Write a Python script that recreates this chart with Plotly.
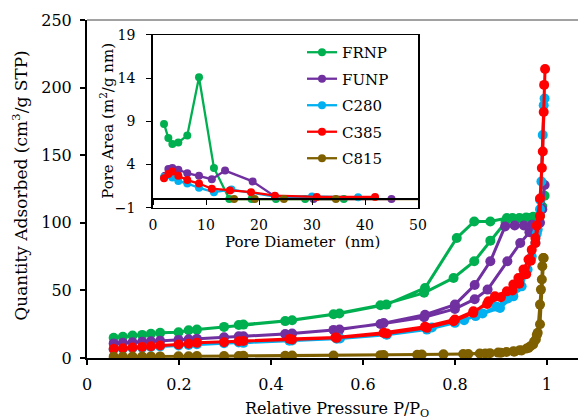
import plotly.graph_objects as go

# ---------------- main isotherm data (P/P0, quantity adsorbed) ----------------
p_frnp = [0.058, 0.078, 0.099, 0.12, 0.139, 0.159, 0.199, 0.221, 0.239, 0.298, 0.33, 0.431, 0.536, 0.638,
          0.733, 0.797, 0.842, 0.877, 0.91, 0.93, 0.945, 0.96, 0.972, 0.982, 0.99, 0.995,
          0.985, 0.97, 0.955, 0.94, 0.925, 0.913, 0.877, 0.842, 0.804, 0.735, 0.651, 0.549, 0.446, 0.34]
q_frnp = [14.9, 15.7, 16.6, 17.1, 17.9, 18.6, 19.1, 20.5, 21.0, 23.0, 24.4, 27.3, 32.3, 39.0,
          48.2, 59.2, 71.5, 86.8, 100.5, 102.5, 103, 103.5, 104, 104.5, 112, 120,
          105, 104.5, 104, 103.5, 103.5, 103.5, 101, 101, 88.8, 51.8, 39.5, 32.9, 27.9, 24.7]

p_funp = [0.058, 0.078, 0.099, 0.12, 0.139, 0.159, 0.199, 0.221, 0.239, 0.298, 0.33, 0.431, 0.536, 0.638,
          0.733, 0.80, 0.843, 0.871, 0.914, 0.942, 0.962, 0.978, 0.99, 0.995,
          0.985, 0.968, 0.95, 0.93, 0.909, 0.877, 0.843, 0.80, 0.735, 0.645, 0.549, 0.446, 0.34]
q_funp = [10.8, 11.2, 11.6, 12.0, 12.3, 12.7, 13.4, 13.9, 14.3, 15.4, 16.0, 17.8, 20.8, 25.2,
          30.1, 36.3, 43.5, 50.6, 71.5, 85, 93, 97.5, 110, 128,
          100, 98.5, 98, 98, 97.3, 71.5, 54, 39.5, 32, 25.8, 21, 18.1, 16.1]

p_c280 = [0.058, 0.078, 0.099, 0.12, 0.139, 0.159, 0.199, 0.221, 0.239, 0.298, 0.33, 0.446, 0.543, 0.652,
          0.739, 0.80, 0.845, 0.898, 0.927, 0.945, 0.958, 0.967, 0.975, 0.98, 0.985, 0.988, 0.991, 0.993, 0.995,
          0.985, 0.978, 0.965, 0.95, 0.935, 0.915, 0.89, 0.86, 0.82, 0.75, 0.65, 0.55, 0.44, 0.34]
q_c280 = [6.3, 6.8, 7.3, 7.7, 8.1, 8.5, 9.2, 9.7, 10.2, 11.0, 11.5, 13.0, 14.3, 17.2,
          21, 26, 31, 37, 45.6, 53, 65.4, 75, 85, 95, 117, 130.6, 165, 187, 192,
          110, 92, 74, 62, 52, 44, 38, 33, 28, 22.5, 17.5, 14.5, 12.8, 11.2]

p_c385 = [0.058, 0.078, 0.099, 0.12, 0.139, 0.159, 0.199, 0.221, 0.239, 0.298, 0.33, 0.446, 0.543, 0.652,
          0.739, 0.797, 0.84, 0.873, 0.887, 0.913, 0.927, 0.938, 0.949, 0.96, 0.967, 0.975, 0.978, 0.985,
          0.989, 0.991, 0.993, 0.994, 0.996,
          0.985, 0.975, 0.965, 0.955, 0.94, 0.925, 0.9, 0.87, 0.84, 0.8, 0.735, 0.645, 0.54, 0.44, 0.34]
q_c385 = [6.8, 7.2, 7.8, 8.2, 8.7, 9.2, 10.0, 10.6, 11.2, 11.7, 12.4, 13.7, 14.9, 18.1,
          22.3, 27.2, 33.4, 42, 45.6, 49.3, 54.3, 59.2, 65.4, 72.8, 80, 88.8, 97.9, 118,
          140.5, 152.7, 182, 202, 213.8,
          105, 85, 72, 62, 55, 50, 45, 40, 34.5, 28.5, 23.2, 18.6, 15.2, 14, 12.6]

p_c815 = [0.058, 0.078, 0.099, 0.12, 0.139, 0.159, 0.199, 0.221, 0.239, 0.298, 0.33, 0.431, 0.536, 0.638,
          0.718, 0.775, 0.818, 0.854, 0.876, 0.894, 0.912, 0.927, 0.941, 0.956, 0.964, 0.972, 0.976, 0.98,
          0.985, 0.987, 0.989, 0.99, 0.992, 0.993,
          0.985, 0.978, 0.97, 0.96, 0.945, 0.929, 0.9, 0.866, 0.829, 0.728, 0.645, 0.446, 0.34]
q_c815 = [1.0, 1.0, 1.1, 1.1, 1.2, 1.2, 1.3, 1.3, 1.4, 1.5, 1.5, 1.7, 1.9, 2.1,
          2.4, 2.7, 3.0, 3.3, 3.6, 4.0, 4.5, 5.0, 5.8, 7.0, 8.7, 12, 13.7, 18.6,
          39.5, 50.6, 58, 67.8, 74, 74,
          25, 17, 10, 7.5, 5.5, 4.6, 3.9, 3.4, 3.0, 2.5, 2.2, 1.8, 1.6]

# ---------------- inset pore-area distribution data ----------------
d_frnp = [2.08, 2.9, 3.65, 4.78, 6.47, 8.68, 11.5, 14.4, 18.6, 23.2, 28.7, 36]
a_frnp = [8.7, 7.06, 6.37, 6.56, 7.37, 14.1, 3.6, 0.0, 0.0, 0.0, 0.0, 0.0]
d_funp = [2.26, 2.9, 3.65, 4.78, 6.47, 8.68, 11.1, 13.6, 18.8, 23.0, 30.3, 45]
a_funp = [2.7, 3.48, 3.6, 3.4, 3.0, 2.7, 2.3, 3.3, 2.05, 0.3, 0.0, 0.0]
d_c280 = [2.08, 2.9, 3.65, 4.78, 6.47, 8.68, 11.5, 14.8, 23.0, 30.0, 38.7]
a_c280 = [2.55, 2.8, 2.5, 2.1, 1.8, 1.3, 0.8, 1.1, 0.3, 0.3, 0.2]
d_c385 = [2.08, 2.9, 3.65, 4.78, 6.47, 8.68, 11.1, 14.5, 18.5, 23.0, 30.9, 41.9]
a_c385 = [2.4, 2.9, 3.2, 2.7, 2.2, 1.8, 1.2, 1.0, 0.8, 0.4, 0.25, 0.25]
d_c815 = [15.3, 19.2, 24.7, 34.5, 55]
a_c815 = [0.0, 0.0, 0.0, 0.0, 0.0]

names = ["FRNP", "FUNP", "C280", "C385", "C815"]
colors = ["#00B050", "#7030A0", "#00B0F0", "#FF0000", "#7F6000"]
main_x = [p_frnp, p_funp, p_c280, p_c385, p_c815]
main_y = [q_frnp, q_funp, q_c280, q_c385, q_c815]
ins_x = [d_frnp, d_funp, d_c280, d_c385, d_c815]
ins_y = [a_frnp, a_funp, a_c280, a_c385, a_c815]

main_ticks = [0, 0.2, 0.4, 0.6, 0.8, 1]
main_ticktext = ["0", "0.2", "0.4", "0.6", "0.8", "1"]
inset_yticks = [-1, 4, 9, 14, 19]
inset_xticks = [0, 10, 20, 30, 40, 50]

FONT = "DejaVu Serif"

fig = go.Figure()
for n, c, x, y in zip(names, colors, main_x, main_y):
    fig.add_trace(go.Scatter(x=x, y=y, mode="lines+markers", name=n, legendgroup=n,
                             line=dict(color=c, width=3), marker=dict(color=c, size=10),
                             xaxis="x", yaxis="y", showlegend=False, cliponaxis=True))
for n, c, x, y in zip(names, colors, ins_x, ins_y):
    fig.add_trace(go.Scatter(x=x, y=y, mode="lines+markers", name=n, legendgroup=n,
                             line=dict(color=c, width=2.3), marker=dict(color=c, size=8),
                             xaxis="x2", yaxis="y2", showlegend=True, cliponaxis=True))
# empty trace to bind the zero-line axis of the inset
fig.add_trace(go.Scatter(x=[], y=[], xaxis="x3", yaxis="y2", showlegend=False, hoverinfo="skip"))

# The page body has an 8 px margin, so the figure is drawn 8 px in from the corner.
OFF = 8
W, H = 586 - OFF, 419 - OFF
# plot area in screenshot pixels: left 87, top 20, right 586, bottom 358.5
L, T = 87 - OFF, 20 - OFF
R = 0
B = H - (358.5 - OFF)
pw, ph = 586 - 87, 358.5 - 20
def px_x(px):
    return (px - 87) / pw
def px_y(py):
    return (358.5 - py) / ph

ins_dom_x = [px_x(153), px_x(418)]
ins_dom_y = [px_y(208), px_y(35)]
zero_pos = ins_dom_y[0] + (0 - (-1)) / 20 * (ins_dom_y[1] - ins_dom_y[0])

fig.update_layout(
    width=W, height=H,
    margin=dict(l=L, r=R, t=T, b=B, autoexpand=False),
    paper_bgcolor="white", plot_bgcolor="white",
    font=dict(family=FONT, color="black", size=15),
    xaxis=dict(domain=[0, 1], range=[0, 1.085], tickvals=main_ticks, ticktext=main_ticktext,
               showgrid=False, zeroline=False, showline=True, linecolor="black", linewidth=2,
               ticks="outside", ticklen=5, tickcolor="black", tickwidth=1.5,
               tickfont=dict(size=16), ticklabelstandoff=6, anchor="y"),
    yaxis=dict(domain=[0, 1], range=[0, 250], dtick=50, showgrid=False, zeroline=False,
               showline=True, linecolor="black", linewidth=2, ticks="outside", ticklen=5,
               tickcolor="black", tickwidth=1.5, tickfont=dict(size=16), ticklabelstandoff=5,
               anchor="x"),
    xaxis2=dict(domain=ins_dom_x, range=[0, 50], tickvals=inset_xticks, anchor="y2",
                showgrid=False, zeroline=False, showline=True, mirror=True, linecolor="black",
                linewidth=1.2, ticks="", tickfont=dict(size=14), ticklabelstandoff=4),
    yaxis2=dict(domain=ins_dom_y, range=[-1, 19], tickvals=inset_yticks, anchor="x2",
                showgrid=False, zeroline=False, showline=True, mirror=True, linecolor="black",
                linewidth=1.5, ticks="outside", ticklen=5, tickcolor="black",
                tickfont=dict(size=14), ticklabelstandoff=8),
    xaxis3=dict(overlaying="x2", anchor="free", position=zero_pos, range=[0, 50],
                tickvals=inset_xticks, showticklabels=False, showgrid=False, zeroline=False,
                showline=True, linecolor="black", linewidth=2, ticks="outside", ticklen=5,
                tickcolor="black", tickwidth=1.2, side="bottom"),
    legend=dict(x=px_x(302), y=px_y(36), xanchor="left", yanchor="top",
                bgcolor="rgba(0,0,0,0)", font=dict(size=15, family=FONT),
                tracegroupgap=4, itemwidth=30),
    showlegend=True,
    shapes=[dict(type="line", xref="paper", yref="paper", x0=0, x1=1, y0=1, y1=1,
                 line=dict(color="#444444", width=1))],
    annotations=[
        dict(text="Relative Pressure P/P<sub>O</sub>", xref="paper", yref="paper",
             x=px_x(337), y=px_y(410), xanchor="center", yanchor="middle", showarrow=False,
             font=dict(size=16, family=FONT)),
        dict(text="Quantity Adsorbed (cm<sup>3</sup>/g STP)", xref="paper", yref="paper",
             x=px_x(20), y=px_y(186), xanchor="center", yanchor="middle", showarrow=False,
             textangle=-90, font=dict(size=17, family=FONT)),
        dict(text="Pore Diameter  (nm)", xref="paper", yref="paper",
             x=px_x(302), y=px_y(242), xanchor="center", yanchor="middle", showarrow=False,
             font=dict(size=15, family=FONT)),
        dict(text="Pore Area (m<sup>2</sup>/g nm)", xref="paper", yref="paper",
             x=px_x(107), y=px_y(121), xanchor="center", yanchor="middle", showarrow=False,
             textangle=-90, font=dict(size=15, family=FONT)),
    ],
)

fig.write_html("out.html")
